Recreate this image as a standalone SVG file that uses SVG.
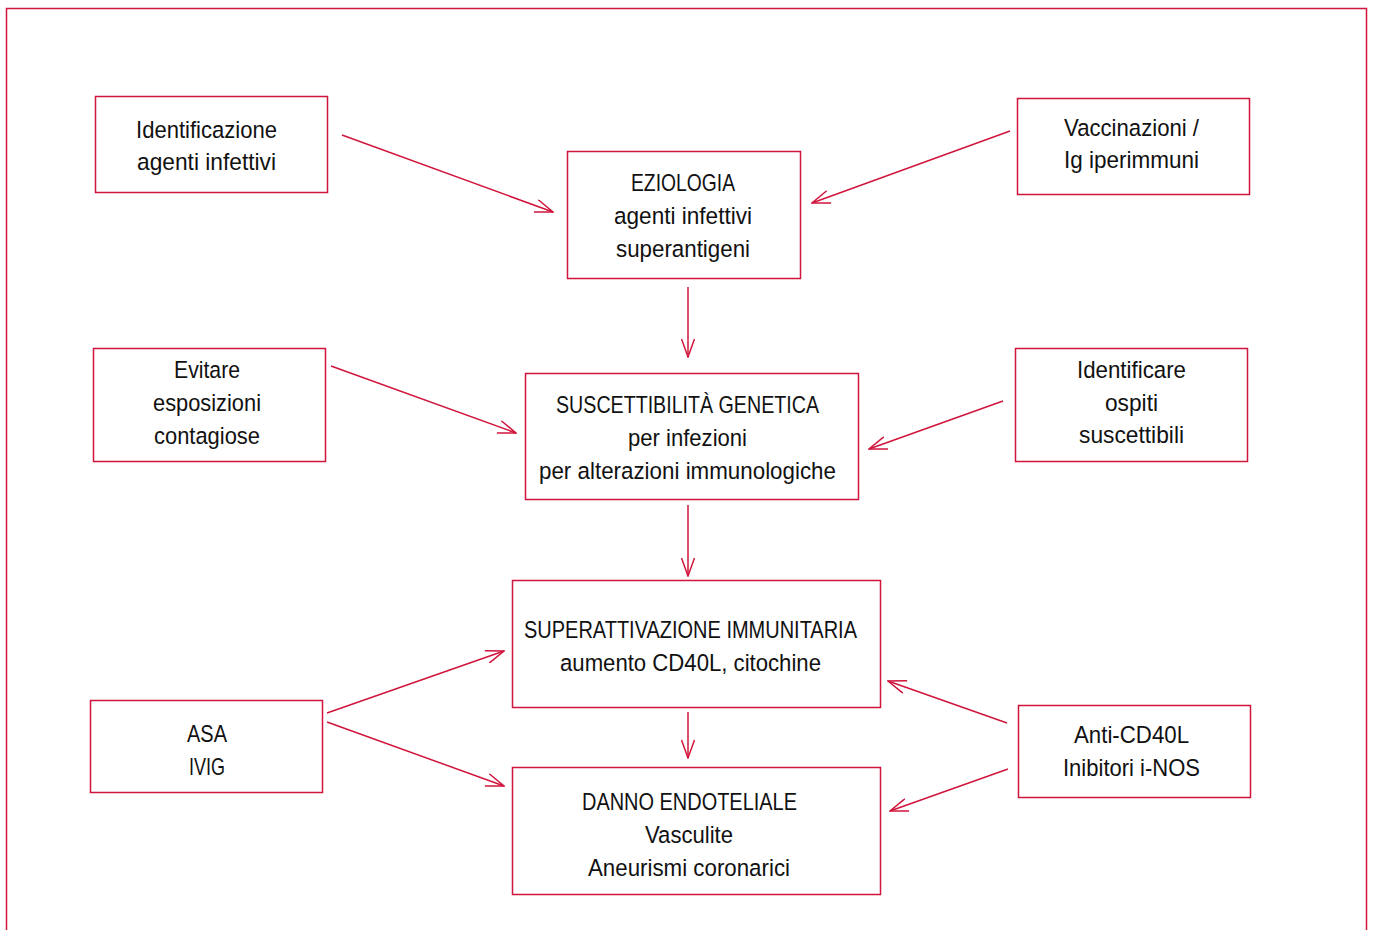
<svg xmlns="http://www.w3.org/2000/svg" width="1373" height="930" viewBox="0 0 1373 930">
<style>
.box{fill:#fff;stroke:#d0143c;stroke-width:1.5}
.frame{fill:none;stroke:#d0143c;stroke-width:1.5}
text{font-family:"Liberation Sans",Arial,sans-serif;font-size:24.5px;fill:#111;text-anchor:middle}
.c line{stroke:#d0143c;stroke-width:1.5;marker-end:url(#ah)}
</style>
<defs>
<marker id="ah" viewBox="0 0 20 14" refX="19" refY="7" markerWidth="20" markerHeight="14" markerUnits="userSpaceOnUse" orient="auto">
<path d="M1,0.5 L19,7 L1,13.5" fill="none" stroke="#d0143c" stroke-width="1.5"/>
</marker>
</defs>
<rect width="1373" height="930" fill="#fff"/>
<rect class="frame" x="6.5" y="8.5" width="1360" height="940"/>
<g class="c">
<line x1="342" y1="135" x2="553" y2="212"/>
<line x1="1010" y1="131" x2="812" y2="203"/>
<line x1="688" y1="287" x2="688" y2="357"/>
<line x1="331" y1="366" x2="516" y2="433"/>
<line x1="1003" y1="401" x2="869" y2="449"/>
<line x1="688" y1="505" x2="688" y2="576"/>
<line x1="327" y1="713" x2="504" y2="651"/>
<line x1="327" y1="722" x2="504" y2="786"/>
<line x1="688" y1="712" x2="688" y2="758"/>
<line x1="1007" y1="723" x2="888" y2="681"/>
<line x1="1008" y1="769" x2="890" y2="811"/>
</g>
<g id="n1"><rect class="box" x="95.5" y="96.5" width="232" height="96"/><text x="206.5" y="137.5" textLength="141" lengthAdjust="spacingAndGlyphs">Identificazione</text><text x="206.5" y="169.5" textLength="139" lengthAdjust="spacingAndGlyphs">agenti infettivi</text></g>
<g id="n2"><rect class="box" x="567.5" y="151.5" width="233" height="127"/><text x="683" y="190.5" textLength="104" lengthAdjust="spacingAndGlyphs">EZIOLOGIA</text><text x="683" y="223.5" textLength="138" lengthAdjust="spacingAndGlyphs">agenti infettivi</text><text x="683" y="256.5" textLength="134" lengthAdjust="spacingAndGlyphs">superantigeni</text></g>
<g id="n3"><rect class="box" x="1017.5" y="98.5" width="232" height="96"/><text x="1131.5" y="135.5" textLength="135" lengthAdjust="spacingAndGlyphs">Vaccinazioni /</text><text x="1131.5" y="167.5" textLength="135" lengthAdjust="spacingAndGlyphs">Ig iperimmuni</text></g>
<g id="n4"><rect class="box" x="93.5" y="348.5" width="232" height="113"/><text x="207" y="377.5" textLength="66" lengthAdjust="spacingAndGlyphs">Evitare</text><text x="207" y="410.5" textLength="108" lengthAdjust="spacingAndGlyphs">esposizioni</text><text x="207" y="443.5" textLength="106" lengthAdjust="spacingAndGlyphs">contagiose</text></g>
<g id="n5"><rect class="box" x="525.5" y="373.5" width="333" height="126"/><text x="687.5" y="412.5" textLength="263" lengthAdjust="spacingAndGlyphs">SUSCETTIBILITÀ GENETICA</text><text x="687.5" y="445.5" textLength="119" lengthAdjust="spacingAndGlyphs">per infezioni</text><text x="687.5" y="478.5" textLength="297" lengthAdjust="spacingAndGlyphs">per alterazioni immunologiche</text></g>
<g id="n6"><rect class="box" x="1015.5" y="348.5" width="232" height="113"/><text x="1131.5" y="377.5" textLength="109" lengthAdjust="spacingAndGlyphs">Identificare</text><text x="1131.5" y="410.5" textLength="53" lengthAdjust="spacingAndGlyphs">ospiti</text><text x="1131.5" y="442.5" textLength="105" lengthAdjust="spacingAndGlyphs">suscettibili</text></g>
<g id="n7"><rect class="box" x="512.5" y="580.5" width="368" height="127"/><text x="690.5" y="637.5" textLength="333" lengthAdjust="spacingAndGlyphs">SUPERATTIVAZIONE IMMUNITARIA</text><text x="690.5" y="670.5" textLength="261" lengthAdjust="spacingAndGlyphs">aumento CD40L, citochine</text></g>
<g id="n8"><rect class="box" x="90.5" y="700.5" width="232" height="92"/><text x="207" y="741.5" textLength="40" lengthAdjust="spacingAndGlyphs">ASA</text><text x="207" y="774.5" textLength="36" lengthAdjust="spacingAndGlyphs">IVIG</text></g>
<g id="n9"><rect class="box" x="512.5" y="767.5" width="368" height="127"/><text x="689.5" y="809.5" textLength="215" lengthAdjust="spacingAndGlyphs">DANNO ENDOTELIALE</text><text x="689" y="842.5" textLength="88" lengthAdjust="spacingAndGlyphs">Vasculite</text><text x="689" y="875.5" textLength="202" lengthAdjust="spacingAndGlyphs">Aneurismi coronarici</text></g>
<g id="n10"><rect class="box" x="1018.5" y="705.5" width="232" height="92"/><text x="1131.5" y="742.5" textLength="115" lengthAdjust="spacingAndGlyphs">Anti-CD40L</text><text x="1131.5" y="775.5" textLength="137" lengthAdjust="spacingAndGlyphs">Inibitori i-NOS</text></g>
</svg>
